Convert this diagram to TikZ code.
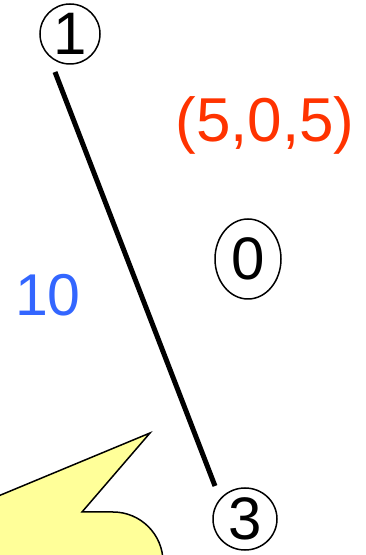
\documentclass[tikz,border=0pt]{standalone}
\usepackage{fontspec}
\setmainfont{Liberation Sans}
\usetikzlibrary{shapes.geometric,calc}
\definecolor{labred}{HTML}{FF3300}
\definecolor{labblue}{HTML}{3366FF}
\definecolor{calloutyellow}{HTML}{FFFF99}
\tikzset{
  vertex/.style={ellipse, draw=black, line width=1.5pt, inner sep=0pt, font=\fontsize{60}{60}\selectfont},
  edge/.style={line width=5pt, black},
  lbl/.style={inner sep=0pt}
}
\begin{document}
\begin{tikzpicture}[x=1pt,y=1pt]
\useasboundingbox (0,0) rectangle (365,555);
\clip (0,0) rectangle (365,555);
% callout
\path[fill=calloutyellow, draw=black, line width=1.5pt]
  (-45,41) -- (150,122) -- (82,43) -- (113,43) arc[start angle=90, end angle=0, radius=50] -- (163,-20) -- (-45,-20) -- cycle;
% nodes
\node[vertex, minimum width=60pt, minimum height=60pt] (n1) at (70,521) {1};
\node[vertex, minimum width=66pt, minimum height=80pt] (n0) at (248,296) {0};
\node[vertex, minimum width=64pt, minimum height=62pt] (n3) at (245,36) {3};
% edge
\coordinate (e1) at ($(n1)+(-15,-38)$);
\coordinate (e3) at ($(n3)+(-30,33)$);
\draw[edge] (e1) -- (e3);
% labels
\node[lbl, text=labred, font=\fontsize{62}{62}\selectfont] (w) at (265,430) {(5,0,5)};
\node[lbl, text=labblue, font=\fontsize{59}{59}\selectfont] (c) at (48,260) {10};
\end{tikzpicture}
\end{document}
